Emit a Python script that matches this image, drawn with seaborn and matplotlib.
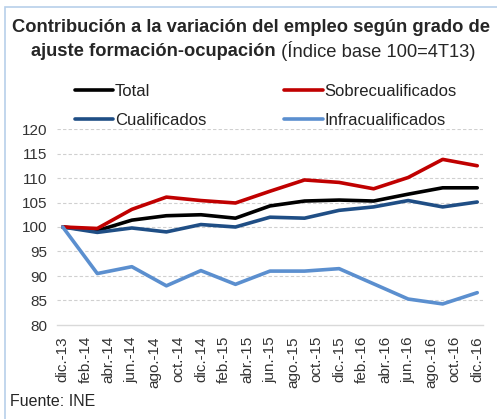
import numpy as np
import pandas as pd
import matplotlib
matplotlib.use("Agg")
import matplotlib.pyplot as plt
import seaborn as sns
from matplotlib.patches import Rectangle

# monthly tick labels (every 2 months), data is quarterly
tick_labels = ["dic.-13", "feb.-14", "abr.-14", "jun.-14", "ago.-14", "oct.-14",
               "dic.-14", "feb.-15", "abr.-15", "jun.-15", "ago.-15", "oct.-15",
               "dic.-15", "feb.-16", "abr.-16", "jun.-16", "ago.-16", "oct.-16",
               "dic.-16"]
quarter_month = [0, 3, 6, 9, 12, 15, 18, 21, 24, 27, 30, 33, 36]

total = [100, 99.25, 101.4, 102.3, 102.5, 101.8, 104.3, 105.3, 105.5, 105.3, 106.7, 108.0, 108.0]
sobre = [100, 99.7, 103.6, 106.1, 105.4, 104.9, 107.3, 109.6, 109.1, 107.8, 110.1, 113.8, 112.5]
cualif = [100, 98.9, 99.8, 99.0, 100.5, 100.0, 102.0, 101.8, 103.4, 104.1, 105.4, 104.1, 105.1]
infra = [100, 90.5, 91.9, 88.0, 91.1, 88.3, 91.0, 91.0, 91.5, 88.4, 85.3, 84.3, 86.6]

series = ["Total", "Cualificados", "Sobrecualificados", "Infracualificados"]
colors = {"Total": "#000000", "Sobrecualificados": "#C00000",
          "Cualificados": "#1F4E85", "Infracualificados": "#5B8FCF"}

df = pd.DataFrame({
    "mes": quarter_month * 4,
    "valor": total + cualif + sobre + infra,
    "serie": np.repeat(series, len(quarter_month)),
})

sns.set_theme(style="white")
plt.rcParams["font.family"] = ["Liberation Sans", "DejaVu Sans"]

fig = plt.figure(figsize=(4.97, 4.19), dpi=100)
ax = fig.add_axes([57 / 497, 1 - 325 / 419, 426 / 497, 196 / 419])

sns.lineplot(data=df, x="mes", y="valor", hue="serie", hue_order=series,
             palette=colors, linewidth=2.6, ax=ax, legend=False)

ax.set_xlim(-0.5, 36.5)
ax.set_ylim(80, 120)
ax.set_yticks(range(80, 121, 5))
ax.set_xticks(range(0, 37, 2))
ax.set_xticklabels(tick_labels, rotation=90, fontsize=11, color="#333333")
ax.tick_params(axis="y", labelsize=11, colors="#333333", length=0, pad=7)
ax.tick_params(axis="x", length=0, pad=8)
ax.set_xlabel("")
ax.set_ylabel("")
for y in range(85, 121, 5):
    ax.axhline(y, color="#D0D0D0", linewidth=0.8, linestyle=(0, (3, 2)), zorder=0)
for s in ["top", "right", "left"]:
    ax.spines[s].set_visible(False)
ax.spines["bottom"].set_color("#D9D9D9")
ax.spines["bottom"].set_linewidth(1.0)

handles = [plt.Line2D([], [], color=colors[s], linewidth=2.6) for s in series]
fig.legend(handles, series, ncol=2, loc="upper left",
           bbox_to_anchor=(68 / 497, 1 - 77 / 419), frameon=False,
           fontsize=12, handlelength=2.3, handletextpad=0.1,
           columnspacing=4.7, labelspacing=0.85, borderaxespad=0,
           labelcolor="#222222")

fig.text(0.505, 1 - 28 / 419, "Contribución a la variación del empleo según grado de",
         ha="center", va="center", fontsize=13.2, fontweight="bold")
t1 = fig.text(0, 0, "ajuste formación-ocupación", fontsize=13.2, fontweight="bold")
t2 = fig.text(0, 0, " (Índice base 100=4T13)", fontsize=13.2)
fig.canvas.draw()
r = fig.canvas.get_renderer()
w1 = t1.get_window_extent(r).width
w2 = t2.get_window_extent(r).width
x0 = (497 * 0.51 - (w1 + w2) / 2) / 497
t1.set_position((x0, 1 - 51 / 419))
t1.set_va("center")
t2.set_position((x0 + w1 / 497, 1 - 51 / 419))
t2.set_va("center")

fig.text(10 / 497, 1 - 401 / 419, "Fuente: INE", fontsize=11.5, va="center")

fig.patches.append(Rectangle((5 / 497, -0.1), 1.2, 1 - 7 / 419 + 0.1,
                             transform=fig.transFigure, fill=False,
                             edgecolor="#B8D0EA", linewidth=1.2))

fig.savefig("out.png", dpi=100)
